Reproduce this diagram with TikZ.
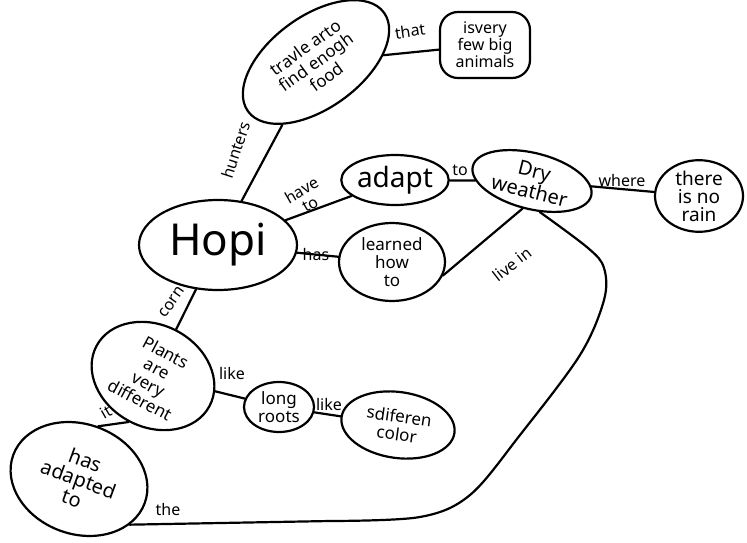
\documentclass[tikz,border=0pt]{standalone}
\usepackage{fontspec}
\setmainfont{Noto Sans}
\usetikzlibrary{shapes.geometric}

\begin{document}
\begin{tikzpicture}[x=1pt, y=-1pt,
  ink/.style={line width=2.2pt, line join=round, line cap=round},
  bubble/.style={ink, draw, ellipse, inner sep=0pt, align=center,
    font=\fontsize{17}{18}\selectfont},
  box/.style={ink, draw, rectangle, rounded corners=18pt,
    inner sep=0pt, align=center, font=\fontsize{16}{17}\selectfont},
  lbl/.style={font=\fontsize{16}{16}\selectfont, inner sep=1pt}]
\useasboundingbox (0,0) rectangle (747,543);

% concepts
\node[bubble, minimum width=158, minimum height=90, font=\fontsize{44}{44}\selectfont] (hopi) at (218,245) {Hopi};
\node[bubble, rotate=36, minimum width=168, minimum height=92] (food) at (316,62)
  {travle arto\\find enogh\\food};
\node[box, minimum width=90, minimum height=66] (few) at (485,45)
  {isvery\\few big\\animals};
\node[bubble, minimum width=98, minimum height=50, font=\fontsize{28}{28}\selectfont] (adapt) at (395,180) {adapt};
\node[bubble, minimum width=106, minimum height=78] (learned) at (392,262)
  {learned\\how\\to};
\node[bubble, rotate=-14, minimum width=122, minimum height=56, font=\fontsize{20}{19}\selectfont] (dry) at (532,181)
  {Dry\\weather};
\node[bubble, minimum width=88, minimum height=70, font=\fontsize{19}{18}\selectfont] (rain) at (699,196)
  {there\\is no\\rain};
\node[bubble, rotate=-28, minimum width=128, minimum height=102] (plants) at (153,376)
  {Plants\\are\\very\\different};
\node[bubble, minimum width=70, minimum height=50] (roots) at (279,407)
  {long\\roots};
\node[bubble, rotate=-8, minimum width=114, minimum height=66] (color) at (398,425)
  {sdiferen\\color};
\node[bubble, rotate=-20, minimum width=140, minimum height=110, font=\fontsize{20}{20}\selectfont] (hasad) at (79,479)
  {has\\adapted\\to};

% the long link back round to the lower node
\coordinate (bend) at (330,521);

% links
\draw[ink] (hopi) -- (food);
\draw[ink] (food) -- (few);
\draw[ink] (hopi) -- (adapt);
\draw[ink] (hopi) -- (learned);
\draw[ink] (adapt) -- (dry);
\draw[ink] (dry) -- (rain);
\draw[ink] (learned.-15) -- (dry.-95);
\draw[ink] (hopi) -- (plants);
\draw[ink] (plants) -- (roots);
\draw[ink] (roots) -- (color);
\draw[ink] (plants.south) -- (hasad.north);
\draw[ink] (hasad.-22) -- (bend);
\draw[ink] plot[smooth, tension=0.55] coordinates {(dry.-62) (588,248) (604,268) (604,300)
  (580,355) (520,435) (470,495) (420,517) (bend)};

% link labels
\node[lbl, rotate=8] (tthat) at (410,31) {that};
\node[lbl, rotate=72] (thunt) at (236,150) {hunters};
\node[lbl, rotate=30, align=center] (thave) at (306,197) {have\\to};
\node[lbl] (thas) at (316,254) {has};
\node[lbl] (tto) at (460,170) {to};
\node[lbl] (twhere) at (622,180) {where};
\node[lbl, rotate=38] (tlive) at (512,264) {live in};
\node[lbl, rotate=55] (tcorn) at (172,302) {corn};
\node[lbl] (tlike) at (232,373) {like};
\node[lbl] (tlike2) at (329,404) {like};
\node[lbl, rotate=30] (tit) at (106,412) {it};
\node[lbl] (tthe) at (168,509) {the};
\end{tikzpicture}
\end{document}
